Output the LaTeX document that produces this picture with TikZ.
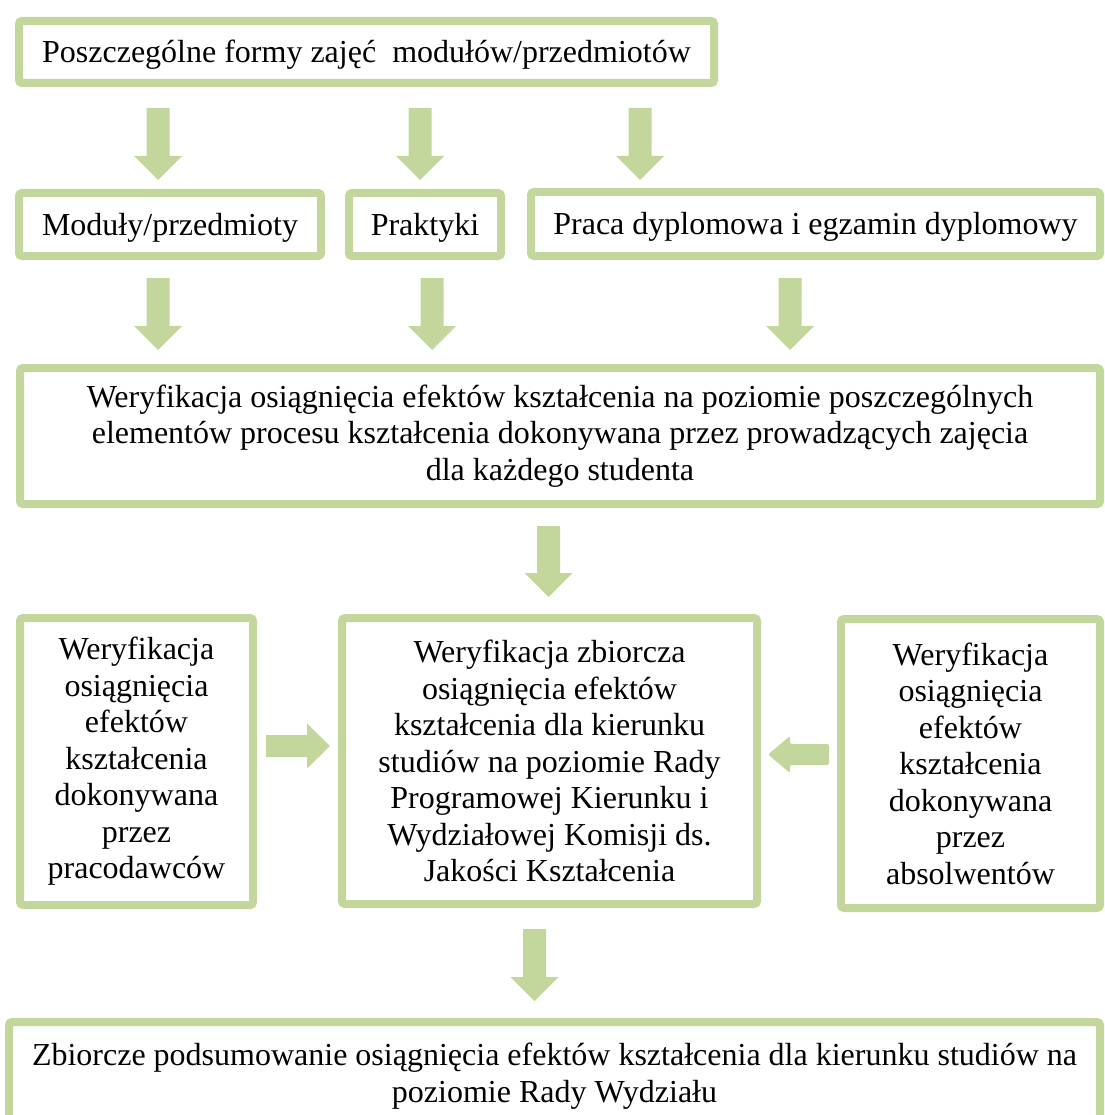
\documentclass[tikz,border=0pt]{standalone}
\usepackage{fontspec}
\setmainfont{Liberation Serif}
\usetikzlibrary{calc}
\definecolor{boxgreen}{HTML}{C3D69B}
% block arrows: #1 = start coordinate, #2 = tip coordinate
\newcommand{\downblock}[2]{%
  \fill[boxgreen] let \p1=(#1), \p2=(#2) in
    (\x1-11.5pt,\y1) -- (\x1+11.5pt,\y1) -- (\x1+11.5pt,\y2+24pt) -- (\x1+24pt,\y2+24pt)
    -- (\x1,\y2) -- (\x1-24pt,\y2+24pt) -- (\x1-11.5pt,\y2+24pt) -- cycle;}
\newcommand{\rightblock}[2]{%
  \fill[boxgreen] let \p1=(#1), \p2=(#2) in
    (\x1,\y1+11pt) -- (\x1,\y1-11pt) -- (\x2-23pt,\y1-11pt) -- (\x2-23pt,\y1-22.5pt)
    -- (\x2,\y1) -- (\x2-23pt,\y1+22.5pt) -- (\x2-23pt,\y1+11pt) -- cycle;}
\newcommand{\leftblock}[2]{%
  \fill[boxgreen,rounded corners=2pt] let \p1=(#1), \p2=(#2) in
    (\x1,\y1+10.5pt) -- (\x1,\y1-10.5pt) -- (\x2+22pt,\y1-10.5pt) -- (\x2+22pt,\y1-18.5pt)
    -- (\x2,\y1) -- (\x2+22pt,\y1+18.5pt) -- (\x2+22pt,\y1+10.5pt) -- cycle;}
\begin{document}
\begin{tikzpicture}[x=1pt,y=-1pt,
  box/.style={draw=boxgreen,line width=8pt,rounded corners=3pt,fill=white,
    inner sep=0pt,outer sep=0pt,align=center,
    font=\fontsize{32}{36.5}\selectfont,
    execute at begin node={\rule{0pt}{28pt}}}]
\useasboundingbox (0,0) rectangle (1104,1115);

% boxes
\node[box,minimum width=695pt,minimum height=62pt] (forms) at (366.5,52)
  {Poszczególne formy zajęć\ \ modułów/przedmiotów};
\node[box,minimum width=302pt,minimum height=63pt] (mod) at (170,224.5)
  {Moduły/przedmioty};
\node[box,minimum width=152pt,minimum height=63pt] (prak) at (425,224.5)
  {Praktyki};
\node[box,minimum width=569pt,minimum height=64pt] (praca) at (815.5,224)
  {Praca dyplomowa i egzamin dyplomowy};
\node[box,minimum width=1080pt,minimum height=136pt] (wer) at (560,436)
  {Weryfikacja osiągnięcia efektów kształcenia na poziomie poszczególnych\\
   elementów procesu kształcenia dokonywana przez prowadzących zajęcia\\
   dla każdego studenta};
\node[box,minimum width=233pt,minimum height=287pt] (pracod) at (136.5,761.5)
  {Weryfikacja\\osiągnięcia\\efektów\\kształcenia\\dokonywana\\przez\\pracodawców};
\node[box,minimum width=415pt,minimum height=286pt] (zbior) at (549.5,761)
  {Weryfikacja zbiorcza\\osiągnięcia efektów\\kształcenia dla kierunku\\
   studiów na poziomie Rady\\Programowej Kierunku i\\Wydziałowej Komisji ds.\\
   Jakości Kształcenia};
\node[box,minimum width=259pt,minimum height=289pt] (absol) at (970.5,763.5)
  {Weryfikacja\\osiągnięcia\\efektów\\kształcenia\\dokonywana\\przez\\absolwentów};
\node[box,minimum width=1091pt,minimum height=108pt] (rada) at (554.5,1076)
  {Zbiorcze podsumowanie osiągnięcia efektów kształcenia dla kierunku studiów na\\
   poziomie Rady Wydziału};

% helper columns / rows for arrow positions
\coordinate (cA) at (158,0);
\coordinate (cB) at (420,0);
\coordinate (cC) at (640,0);
\coordinate (cD) at (432,0);
\coordinate (cE) at (790,0);
\coordinate (cF) at (548.5,0);
\coordinate (cG) at (534.5,0);
\coordinate (rH) at (0,746);
\coordinate (rI) at (0,754.5);

% row 1 arrows
\coordinate (a1s) at ($(forms.south -| cA)+(0,25)$);
\coordinate (a1e) at ($(mod.north -| cA)+(0,-13)$);
\coordinate (a2s) at ($(forms.south -| cB)+(0,25)$);
\coordinate (a2e) at ($(prak.north -| cB)+(0,-13)$);
\coordinate (a3s) at ($(forms.south -| cC)+(0,25)$);
\coordinate (a3e) at ($(praca.north -| cC)+(0,-12)$);
\downblock{a1s}{a1e}
\downblock{a2s}{a2e}
\downblock{a3s}{a3e}

% row 2 arrows
\coordinate (b1s) at ($(mod.south -| cA)+(0,22)$);
\coordinate (b1e) at ($(wer.north -| cA)+(0,-18)$);
\coordinate (b2s) at ($(prak.south -| cD)+(0,22)$);
\coordinate (b2e) at ($(wer.north -| cD)+(0,-18)$);
\coordinate (b3s) at ($(praca.south -| cE)+(0,22)$);
\coordinate (b3e) at ($(wer.north -| cE)+(0,-18)$);
\downblock{b1s}{b1e}
\downblock{b2s}{b2e}
\downblock{b3s}{b3e}

% to the central box
\coordinate (c1s) at ($(wer.south -| cF)+(0,22)$);
\coordinate (c1e) at ($(zbior.north -| cF)+(0,-21)$);
\downblock{c1s}{c1e}

% side arrows
\coordinate (h1s) at ($(pracod.east |- rH)+(13,0)$);
\coordinate (h1e) at ($(zbior.west |- rH)+(-12,0)$);
\rightblock{h1s}{h1e}
\coordinate (h2s) at ($(absol.west |- rI)+(-12,0)$);
\coordinate (h2e) at ($(zbior.east |- rI)+(11,0)$);
\leftblock{h2s}{h2e}

% to the bottom box
\coordinate (d1s) at ($(zbior.south -| cG)+(0,25)$);
\coordinate (d1e) at ($(rada.north -| cG)+(0,-21)$);
\downblock{d1s}{d1e}
\end{tikzpicture}
\end{document}
